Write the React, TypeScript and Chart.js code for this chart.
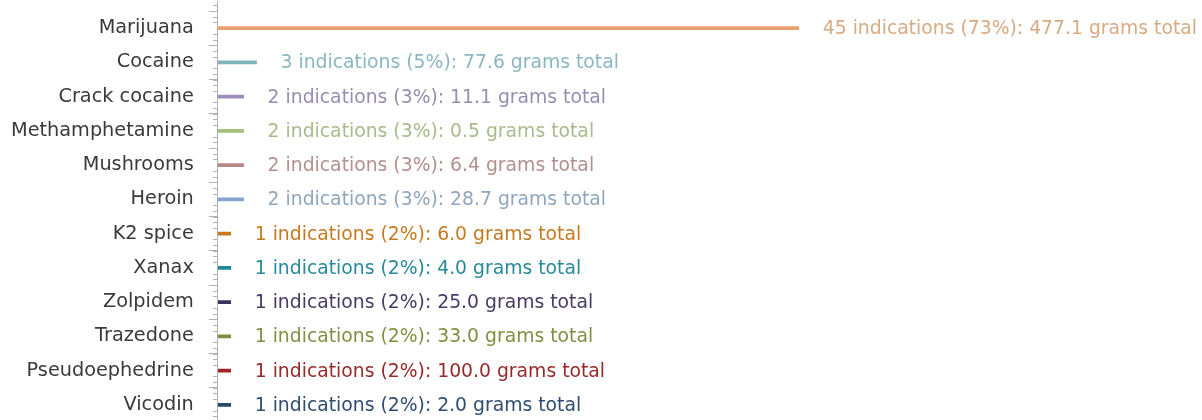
import React, { useEffect, useRef } from "react";
import { Chart, registerables } from "chart.js";

Chart.register(...registerables);

const drugs = [
  "Marijuana",
  "Cocaine",
  "Crack cocaine",
  "Methamphetamine",
  "Mushrooms",
  "Heroin",
  "K2 spice",
  "Xanax",
  "Zolpidem",
  "Trazedone",
  "Pseudoephedrine",
  "Vicodin",
];
const indications = [45, 3, 2, 2, 2, 2, 1, 1, 1, 1, 1, 1];
const percents = [73, 5, 3, 3, 3, 3, 2, 2, 2, 2, 2, 2];
const grams = [477.1, 77.6, 11.1, 0.5, 6.4, 28.7, 6.0, 4.0, 25.0, 33.0, 100.0, 2.0];

const barColors = [
  "#e9a06e",
  "#7fb3be",
  "#9c8cbc",
  "#a6c07c",
  "#b88888",
  "#84a4cc",
  "#c8781c",
  "#208898",
  "#3c3060",
  "#7c9040",
  "#a02424",
  "#28486c",
];
const labelColors = [
  "#d8aa84",
  "#8ab6c2",
  "#978db3",
  "#a9ba8c",
  "#b38f8f",
  "#90a6bd",
  "#c67a20",
  "#288a98",
  "#473b66",
  "#7e9142",
  "#962a2a",
  "#2f4d70",
];

const FONT = "'DejaVu Sans', Verdana, sans-serif";
const AXIS_GRAY = "#b2b2b2";

const valueLabelPlugin = {
  id: "valueLabels",
  afterDatasetsDraw(chart: any) {
    const ctx = chart.ctx;
    const meta = chart.getDatasetMeta(0);
    ctx.save();
    ctx.font = `18.8px ${FONT}`;
    ctx.textAlign = "left";
    ctx.textBaseline = "middle";
    meta.data.forEach((bar: any, i: number) => {
      const text = `${indications[i]} indications (${percents[i]}%): ${grams[i].toFixed(1)} grams total`;
      ctx.fillStyle = labelColors[i];
      ctx.fillText(text, bar.x + 24, bar.y + 1);
    });
    ctx.restore();
  },
};

const axisPlugin = {
  id: "minorAxis",
  afterDraw(chart: any) {
    const ctx = chart.ctx;
    const y = chart.scales.y;
    const x = Math.floor(chart.chartArea.left) + 0.5;
    ctx.save();
    ctx.strokeStyle = AXIS_GRAY;
    ctx.lineWidth = 1;
    ctx.beginPath();
    ctx.moveTo(x, 1);
    ctx.lineTo(x, chart.height);
    ctx.stroke();
    ctx.beginPath();
    for (let i = -1; i <= drugs.length; i++) {
      for (let k = 1; k < 6; k++) {
        const py = y.getPixelForValue(i + k / 6);
        if (py < 2 || py > chart.height) continue;
        const yy = Math.round(py) + 0.5;
        ctx.moveTo(x - 4.5, yy);
        ctx.lineTo(x, yy);
      }
    }
    ctx.stroke();
    ctx.restore();
  },
};

export default function App() {
  const ref = useRef<HTMLCanvasElement | null>(null);

  useEffect(() => {
    if (!ref.current) return;
    const chart = new Chart(ref.current, {
      type: "bar",
      data: {
        labels: drugs,
        datasets: [
          {
            data: indications,
            backgroundColor: barColors,
            borderWidth: 0,
            barThickness: 3,
          },
        ],
      },
      options: {
        indexAxis: "y",
        animation: false,
        responsive: true,
        maintainAspectRatio: false,
        layout: { padding: { left: 10, right: 3, top: 11, bottom: 18 } },
        plugins: {
          legend: { display: false },
          tooltip: { enabled: false },
        },
        scales: {
          x: { display: false, min: 0, max: 76 },
          y: {
            offset: true,
            border: { display: false },
            grid: {
              display: true,
              drawOnChartArea: false,
              drawTicks: true,
              tickLength: 9,
              color: AXIS_GRAY,
            },
            ticks: {
              padding: 15,
              color: "#3a3a3a",
              font: { family: FONT, size: 19.3 },
            },
            afterFit: (s: any) => {
              s.paddingTop = 0;
              s.paddingBottom = 0;
              s.width -= 14;
            },
          },
        },
      },
      plugins: [valueLabelPlugin, axisPlugin],
    });
    return () => chart.destroy();
  }, []);

  return (
    <div
      style={{
        position: "fixed",
        left: 0,
        top: 0,
        width: 1202,
        height: 440,
        background: "#ffffff",
      }}
    >
      <canvas ref={ref} />
    </div>
  );
}
